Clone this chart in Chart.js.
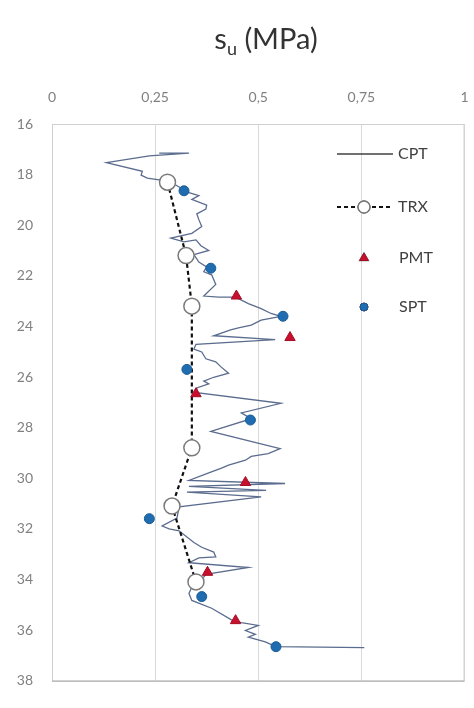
<!DOCTYPE html>
<html>
<head>
<meta charset="utf-8">
<script src="https://cdn.jsdelivr.net/npm/chart.js@4"></script>
<style>
    html, body { margin: 0; padding: 0; background: #fff; }
    #wrap { position: relative; width: 474px; height: 708px; }
    #title {
        position: absolute; left: 60px; width: 412px; top: 20px;
        text-align: center; font-family: Lato, "Open Sans", sans-serif;
        font-size: 29px; color: #333;
    }
    #title sub { font-size: 18px; vertical-align: -6px; }
</style>
</head>
<body>
<div id="wrap">
    <div id="title">s<sub>u</sub> (MPa)</div>
    <canvas id="chart" width="474" height="708"></canvas>
</div>
<script>
// CPT profile: undrained strength (MPa) vs depth (m)
const cptSu = [0.260, 0.332, 0.236, 0.132, 0.219, 0.216, 0.231, 0.264, 0.300, 0.332,
    0.356, 0.339, 0.375, 0.373, 0.351, 0.356, 0.363, 0.339, 0.288, 0.320,
    0.349, 0.361, 0.380, 0.344, 0.356, 0.375, 0.368, 0.387, 0.397, 0.368,
    0.404, 0.445, 0.476, 0.507, 0.531, 0.555, 0.507, 0.483, 0.452, 0.433,
    0.392, 0.541, 0.349, 0.344, 0.363, 0.373, 0.397, 0.409, 0.428, 0.392,
    0.368, 0.380, 0.351, 0.351, 0.555, 0.459, 0.483, 0.385, 0.553, 0.524,
    0.483, 0.469, 0.428, 0.411, 0.380, 0.332, 0.565, 0.332, 0.519, 0.327,
    0.507, 0.308, 0.303, 0.267, 0.284, 0.308, 0.344, 0.363, 0.392, 0.397,
    0.356, 0.332, 0.476, 0.373, 0.368, 0.349, 0.339, 0.332, 0.339, 0.387,
    0.435, 0.459, 0.500, 0.469, 0.493, 0.476, 0.517, 0.543, 0.757];
const cptDepth = [17.15, 17.15, 17.26, 17.53, 17.87, 18.02, 18.14, 18.22, 18.41, 18.71,
    18.83, 18.98, 19.21, 19.36, 19.55, 19.78, 20.05, 20.32, 20.51, 20.66,
    20.58, 20.81, 21.00, 21.16, 21.46, 21.65, 21.84, 21.96, 22.34, 22.80,
    22.84, 22.84, 23.10, 23.30, 23.49, 23.60, 23.75, 23.95, 24.06, 24.14,
    24.37, 24.52, 24.71, 24.90, 25.01, 25.28, 25.40, 25.59, 25.85, 26.01,
    26.16, 26.27, 26.43, 26.62, 27.04, 27.42, 27.65, 28.15, 28.83, 29.03,
    29.14, 29.29, 29.48, 29.60, 29.79, 30.09, 30.21, 30.32, 30.48, 30.55,
    30.74, 31.13, 31.58, 31.89, 32.00, 32.08, 32.54, 32.73, 32.92, 33.11,
    33.15, 33.34, 33.53, 33.80, 33.91, 34.11, 34.30, 34.56, 34.83, 35.14,
    35.60, 35.71, 35.82, 36.02, 36.17, 36.28, 36.47, 36.66, 36.70];

const trxSu    = [0.280, 0.325, 0.339, 0.339, 0.291, 0.349];
const trxDepth = [18.3, 21.2, 23.2, 28.8, 31.1, 34.1];

const pmtSu    = [0.447, 0.577, 0.349, 0.469, 0.377, 0.445];
const pmtDepth = [22.8, 24.44, 26.66, 30.17, 33.72, 35.63];

const sptSu    = [0.320, 0.385, 0.560, 0.327, 0.481, 0.236, 0.363, 0.543];
const sptDepth = [18.64, 21.7, 23.6, 25.7, 27.7, 31.6, 34.68, 36.66];

const xTicks = [0, 0.25, 0.5, 0.75, 1];
const seriesNames = ['CPT', 'TRX', 'PMT', 'SPT'];

function toPoints(xs, ys) {
    return xs.map((x, i) => ({ x: x, y: ys[i] }));
}

const FONT = 'Lato, "Open Sans", sans-serif';

// box around the plot + legend inside on the right
const framePlugin = {
    id: 'frame',
    beforeDatasetsDraw(chart) {
        const a = chart.chartArea;
        const ctx = chart.ctx;
        ctx.save();
        ctx.strokeStyle = '#d0d0d0';
        ctx.lineWidth = 1;
        ctx.strokeRect(a.left + 0.5, a.top + 0.5, a.right - a.left - 1, a.bottom - a.top);
        ctx.strokeStyle = '#a6a6a6';
        ctx.beginPath();
        ctx.moveTo(a.left, a.bottom + 0.5);
        ctx.lineTo(a.right, a.bottom + 0.5);
        ctx.stroke();
        ctx.restore();
    },
    afterDraw(chart) {
        const ctx = chart.ctx;
        const ds = chart.data.datasets;
        const rows = [154, 207, 258, 307];
        const x0 = 337, x1 = 393, xm = 364, xt = 398;
        ctx.save();
        ctx.font = '16px ' + FONT;
        ctx.fillStyle = '#404040';
        ctx.textBaseline = 'middle';
        ctx.textAlign = 'left';
        rows.forEach((y, i) => {
            const d = ds[i];
            if (d.showLine) {
                ctx.save();
                ctx.strokeStyle = i === 0 ? '#404040' : d.borderColor;
                ctx.lineWidth = i === 0 ? 1.3 : 2;
                ctx.setLineDash(d.borderDash || []);
                ctx.beginPath();
                ctx.moveTo(x0, y);
                ctx.lineTo(x1, y);
                ctx.stroke();
                ctx.restore();
            }
            if (d.pointRadius > 0) {
                Chart.helpers.drawPoint(ctx, {
                    pointStyle: d.pointStyle,
                    radius: i === 1 ? 6 : d.pointRadius - 1,
                    borderWidth: d.pointBorderWidth
                }, xm, y);
                ctx.fillStyle = d.pointBackgroundColor;
                ctx.strokeStyle = d.pointBorderColor;
                ctx.lineWidth = d.pointBorderWidth;
                ctx.fill();
                ctx.stroke();
                ctx.fillStyle = '#404040';
            }
            ctx.fillText(seriesNames[i], i >= 2 ? xt + 1 : xt, y);
        });
        ctx.restore();
    }
};

new Chart(document.getElementById('chart'), {
    type: 'scatter',
    data: {
        datasets: [
            {
                label: seriesNames[0],
                data: toPoints(cptSu, cptDepth),
                showLine: true,
                borderColor: '#5b6c8e',
                borderWidth: 1.3,
                pointRadius: 0,
                order: 4
            },
            {
                label: seriesNames[1],
                data: toPoints(trxSu, trxDepth),
                showLine: true,
                borderColor: '#111111',
                borderWidth: 2.2,
                borderDash: [4, 3],
                pointStyle: 'circle',
                pointRadius: 8,
                pointBackgroundColor: '#ffffff',
                pointBorderColor: '#7a7a7a',
                pointBorderWidth: 1.5,
                order: 3
            },
            {
                label: seriesNames[2],
                data: toPoints(pmtSu, pmtDepth),
                pointStyle: 'triangle',
                pointRadius: 6,
                pointBackgroundColor: '#c8102e',
                pointBorderColor: '#a50d26',
                pointBorderWidth: 1,
                order: 2
            },
            {
                label: seriesNames[3],
                data: toPoints(sptSu, sptDepth),
                pointStyle: 'circle',
                pointRadius: 5,
                pointBackgroundColor: '#1f6db0',
                pointBorderColor: '#1b5c93',
                pointBorderWidth: 1,
                order: 1
            }
        ]
    },
    options: {
        responsive: false,
        animation: false,
        devicePixelRatio: 1,
        layout: { padding: { top: 0, right: 6, bottom: 8, left: 0 } },
        plugins: {
            legend: { display: false },
            tooltip: { enabled: false }
        },
        scales: {
            x: {
                type: 'linear',
                position: 'top',
                min: 0,
                max: 1,
                afterFit: (s) => {
                    s.height = 124;
                    s.paddingLeft = 0;
                    s.paddingRight = 0;
                },
                afterBuildTicks: (s) => { s.ticks = xTicks.map(v => ({ value: v })); },
                grid: { color: '#d9d9d9', drawTicks: false },
                border: { display: false },
                ticks: {
                    padding: 18,
                    color: '#808080',
                    font: { family: FONT, size: 14 },
                    callback: (v) => String(v).replace('.', ',')
                }
            },
            y: {
                type: 'linear',
                reverse: true,
                min: 16,
                max: 38,
                afterFit: (s) => { s.width = 52; },
                grid: { display: false, drawTicks: false },
                border: { display: false },
                ticks: {
                    stepSize: 2,
                    padding: 19,
                    color: '#808080',
                    font: { family: FONT, size: 14 }
                }
            }
        }
    },
    plugins: [framePlugin]
});
</script>
</body>
</html>
